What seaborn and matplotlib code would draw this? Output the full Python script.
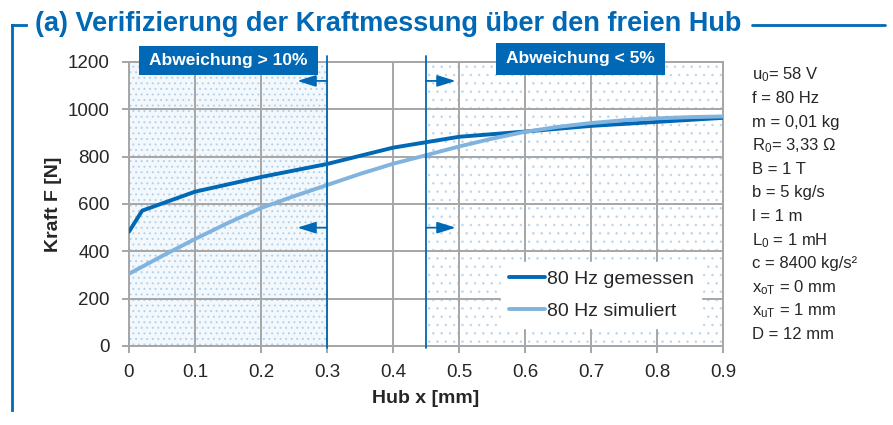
import matplotlib
matplotlib.use('Agg')
import matplotlib.pyplot as plt
import matplotlib.lines as mlines
import matplotlib.patches as mpatches
import seaborn as sns
import pandas as pd

# values
x_mess = [0, 0.02, 0.1, 0.2, 0.3, 0.4, 0.5, 0.6, 0.7, 0.8, 0.9]
f_mess = [483, 572, 652, 714, 769, 838, 884, 906, 930, 947, 964]

x_sim = [0, 0.05, 0.1, 0.15, 0.2, 0.25, 0.3, 0.35, 0.4, 0.45, 0.5,
         0.55, 0.6, 0.65, 0.7, 0.75, 0.8, 0.85, 0.9]
f_sim = [305, 380, 452, 520, 583, 633, 680, 727, 770, 806, 843,
         876, 905, 926, 942, 954, 962, 967, 970]

series_names = ["80 Hz gemessen", "80 Hz simuliert"]
params = [r"u$_0$= 58 V", "f = 80 Hz", "m = 0,01 kg", r"R$_0$= 3,33 Ω",
          "B = 1 T", "b = 5 kg/s", "l = 1 m", r"L$_0$ = 1 mH",
          "c = 8400 kg/s²", r"x$_{\mathrm{oT}}$ = 0 mm",
          r"x$_{\mathrm{uT}}$ = 1 mm", "D = 12 mm"]
x_ticks = [0, 0.1, 0.2, 0.3, 0.4, 0.5, 0.6, 0.7, 0.8, 0.9]
y_ticks = [0, 200, 400, 600, 800, 1000, 1200]

blue = "#0068b4"
light = "#80b4de"
grey = "#a6a6a6"
W, H = 893, 425

sns.set_style("white")
plt.rcParams['font.family'] = ['Liberation Sans', 'DejaVu Sans']
plt.rcParams['mathtext.fontset'] = 'custom'
plt.rcParams['mathtext.rm'] = 'Liberation Sans'
plt.rcParams['mathtext.it'] = 'Liberation Sans'

df = pd.concat([
    pd.DataFrame({"x": x_mess, "F": f_mess, "Serie": series_names[0]}),
    pd.DataFrame({"x": x_sim, "F": f_sim, "Serie": series_names[1]}),
])

fig = plt.figure(figsize=(8.93, 4.25), dpi=100)
ax = fig.add_axes([129 / W, 1 - 346 / H, 594 / W, 284 / H])

# dotted zones
plt.rcParams['hatch.linewidth'] = 0.7
ax.axvspan(0, 0.3, facecolor="#f3f8fc", edgecolor="#b3d1ec", hatch="...", lw=0, zorder=0)
plt.rcParams['hatch.linewidth'] = 0.5
ax.axvspan(0.45, 0.9, facecolor="white", edgecolor="#b8d4ee", hatch="..", lw=0, zorder=0)

sns.lineplot(data=df, x="x", y="F", hue="Serie", palette=[blue, light],
             linewidth=2.8, ax=ax, legend=False, zorder=3)

ax.set_xlim(0, 0.9)
ax.set_ylim(0, 1200)
ax.set_xticks(x_ticks)
ax.set_xticklabels([f"{t:g}" for t in x_ticks])
ax.set_yticks(y_ticks)
ax.grid(True, color=grey, lw=1.4, zorder=1)
ax.set_axisbelow(False)
for sp in ax.spines.values():
    sp.set_color(grey)
    sp.set_linewidth(1.4)
    sp.set_zorder(1)
ax.tick_params(axis='both', length=5, width=1.4, color=grey, labelsize=13.5,
               direction='out', bottom=True, left=True)
ax.tick_params(axis='y', pad=9)
ax.tick_params(axis='x', pad=8)
ax.set_xlabel("Hub x [mm]", fontsize=14, fontweight='bold')
ax.set_ylabel("Kraft F [N]", fontsize=14, fontweight='bold')
ax.xaxis.set_label_coords(0.5, -0.155)
ax.yaxis.set_label_coords(-0.112, 0.5)

# boundary lines and arrows
for xb, xa in [(0.3, 0.255), (0.45, 0.495)]:
    ax.plot([xb, xb], [-8, 1225], color=blue, lw=1.3, clip_on=False, zorder=4)
    for ya in [1120, 500]:
        ax.annotate("", xy=(xa, ya), xytext=(xb, ya),
                    arrowprops=dict(arrowstyle="-|>,head_length=0.8,head_width=0.25",
                                    color=blue, lw=1.3, mutation_scale=14,
                                    shrinkA=0, shrinkB=0),
                    zorder=4)

# zone labels
for (x0, x1, y0, y1), label in [((139, 318, 46, 75), "Abweichung > 10%"),
                                ((496, 665, 43, 75), "Abweichung < 5%")]:
    fig.add_artist(mpatches.Rectangle((x0 / W, 1 - y1 / H), (x1 - x0) / W, (y1 - y0) / H,
                                      transform=fig.transFigure, facecolor=blue,
                                      edgecolor='none', zorder=5))
    fig.text((x0 + x1) / 2 / W, 1 - (y0 + y1) / 2 / H, label, color="white",
             fontsize=12.5, fontweight='bold', ha='center', va='center', zorder=6)

handles = [mlines.Line2D([], [], color=blue, lw=2.8),
           mlines.Line2D([], [], color=light, lw=2.8)]
leg = ax.legend(handles, series_names, loc='lower left', bbox_to_anchor=(0.61, 0.03),
                fontsize=14, frameon=True, fancybox=False, edgecolor='white',
                framealpha=1, handlelength=1.85, handletextpad=0.1, labelspacing=0.75,
                borderpad=0.4)
leg.set_zorder(6)

# parameter list
for i, p in enumerate(params):
    fig.text(752 / W, 1 - (75 + i * 23.6) / H, p, fontsize=12, va='center', ha='left')

# title and frame
fig.text(35 / W, 1 - 24 / H, "(a) Verifizierung der Kraftmessung über den freien Hub",
         fontsize=19.5, fontweight='bold', color=blue, va='center', ha='left')
fig.add_artist(mlines.Line2D([12 / W, 26 / W], [1 - 25 / H, 1 - 25 / H],
                             color=blue, lw=2, solid_capstyle='projecting'))
fig.add_artist(mlines.Line2D([12 / W, 12 / W], [1 - 25 / H, 1 - 410 / H],
                             color=blue, lw=2, solid_capstyle='projecting'))
fig.add_artist(mlines.Line2D([752 / W, 885 / W], [1 - 25 / H, 1 - 25 / H],
                             color=blue, lw=2))

fig.savefig("out.png", dpi=100)
